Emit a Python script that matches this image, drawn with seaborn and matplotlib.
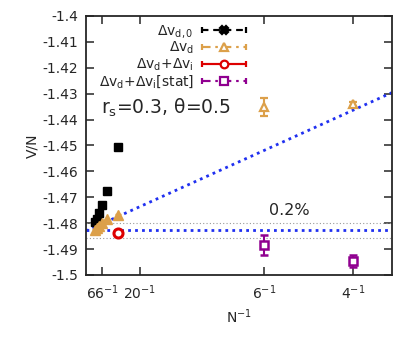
import matplotlib
matplotlib.use("Agg")
import matplotlib.pyplot as plt
import numpy as np
import pandas as pd
import seaborn as sns
from matplotlib.container import ErrorbarContainer
from matplotlib.legend_handler import HandlerErrorbar

# data (x = 1/N)
n_small = [34, 50, 66, 82, 98, 114]
v_d0 = [-1.4505, -1.4675, -1.4730, -1.4762, -1.4785, -1.4794]
v_d_small = [-1.4768, -1.4785, -1.4800, -1.4810, -1.4820, -1.4826]

n_large = [6, 4]
v_d_large = [-1.4351, -1.4341]
v_d_large_err = [0.0035, 0.0008]

n_di = [34]
v_di = [-1.4837]
v_di_err = [0.0004]

v_stat = [-1.4884, -1.4946]
v_stat_err = [0.0038, 0.0022]

# fit lines
fit_x = [0.0, 0.286]
fit_y = [-1.4830, -1.4296]
const_y = -1.4827
band = 0.002 * abs(const_y)

tick_n = [66, 20, 6, 4]
y_ticks = [-1.4, -1.41, -1.42, -1.43, -1.44, -1.45, -1.46, -1.47, -1.48, -1.49, -1.5]

legend_labels = [
    r"$\Delta v_{d,0}$",
    r"$\Delta v_{d}$",
    r"$\Delta v_{d}$+$\Delta v_{i}$",
    r"$\Delta v_{d}$+$\Delta v_{i}$[stat]",
]

sns.set_style("ticks")
plt.rcParams["font.family"] = ["DejaVu Sans"]
plt.rcParams["mathtext.default"] = "regular"

orange = "#dca04a"
red = "#dd0000"
purple = "#900090"
blue = "#2030f0"

fig = plt.figure(figsize=(4.2, 3.47), dpi=100)
ax = fig.add_axes([0.205, 0.2075, 0.728, 0.7465])

# blue fit lines
fit = pd.DataFrame({"x": fit_x, "y": fit_y})
sns.lineplot(data=fit, x="x", y="y", ax=ax, color=blue, lw=2, ls=(0, (1, 1.5)))
ax.axhline(const_y, color=blue, lw=2, ls=(0, (1, 1.5)))
ax.axhline(const_y + band, color="#999999", lw=0.8, ls=(0, (1, 2)))
ax.axhline(const_y - band, color="#999999", lw=0.8, ls=(0, (1, 2)))

x_small = 1.0 / np.array(n_small)
x_large = 1.0 / np.array(n_large)

ax.errorbar(x_small, v_d0, yerr=0.0003, fmt="s", color="black", ms=5.5,
            capsize=2, ls="none")
ax.errorbar(x_small, v_d_small, yerr=0.0003, fmt="^", color=orange, ms=7,
            capsize=2, ls="none")
ax.errorbar(x_large, v_d_large, yerr=v_d_large_err, fmt="^", color=orange,
            mfc="white", mew=1.6, ms=6, capsize=3, ls="none")
ax.errorbar(1.0 / np.array(n_di), v_di, yerr=v_di_err, fmt="o", color=red,
            mfc="white", mew=2.2, ms=6.5, capsize=2, ls="none")
ax.errorbar(x_large, v_stat, yerr=v_stat_err, fmt="s", color=purple,
            mfc="white", mew=1.8, ms=6, capsize=3, ls="none")

# legend proxies (gnuplot style, horizontal bar with caps)
styles = [
    ("X", "black", (0, (3, 2.5)), "black"),
    ("^", orange, (0, (4, 2.5, 1, 2.5)), "white"),
    ("o", red, "-", "white"),
    ("s", purple, (0, (4, 2.5, 1, 2.5)), "white"),
]
handles = []
for mk, col, ls, mfc in styles:
    c = ax.errorbar([np.nan], [np.nan], xerr=[1], fmt=mk, color=col, mfc=mfc,
                    mew=1.6, ms=5.5, ls=ls, lw=1.5, capsize=2.5)
    c[2][0].set_linestyle(ls)
    handles.append(c)

leg = ax.legend(handles, [" "] * 4, loc="upper left",
                bbox_to_anchor=(0.379, 0.968), frameon=False, fontsize=10,
                borderpad=0, borderaxespad=0,
                handlelength=3.2, handletextpad=0, labelspacing=0.2,
                handler_map={ErrorbarContainer: HandlerErrorbar(xerr_size=1.6)})

# right-aligned labels to the left of the samples
fig.canvas.draw()
renderer = fig.canvas.get_renderer()
x_right = leg.get_window_extent(renderer).x0 - 8
inv = fig.transFigure.inverted()
for t, lab in zip(leg.get_texts(), legend_labels):
    bb = t.get_window_extent(renderer)
    yc = 0.5 * (bb.y0 + bb.y1)
    fx, fy = inv.transform((x_right, yc))
    fig.text(fx, fy, lab, ha="right", va="center", fontsize=10)

ax.text(0.0138, -1.4376, r"$r_s$=0.3, θ=0.5", fontsize=13.5, va="baseline")
ax.text(0.1712, -1.4768, "0.2%", fontsize=11.5, va="baseline")

ax.set_xlim(0, 0.286)
ax.set_ylim(-1.5, -1.4)
ax.set_xticks([1.0 / n for n in tick_n])
ax.set_xticklabels([f"${n}^{{-1}}$" for n in tick_n])
ax.set_yticks(y_ticks)
ax.set_yticklabels([f"{v:g}" for v in y_ticks])
ax.tick_params(direction="in", length=6, width=1.1, top=True, right=True,
               labelsize=10, pad=6)
for s in ax.spines.values():
    s.set_linewidth(1.3)
ax.set_xlabel("$N^{-1}$", fontsize=10, labelpad=4)
ax.set_ylabel("V/N", fontsize=10, labelpad=2)

fig.savefig("out.png", dpi=100)
